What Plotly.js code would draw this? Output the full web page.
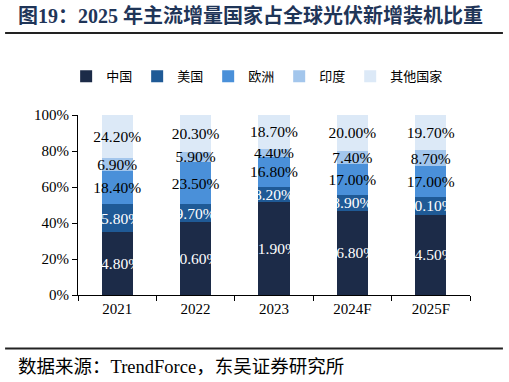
<!DOCTYPE html>
<html><head><meta charset="utf-8">
<script src="https://cdn.plot.ly/plotly-3.0.1.min.js"></script>
<style>html,body{margin:0;padding:0;background:#fff}#chart{width:509px;height:382px}</style>
</head><body><div id="chart"></div>
<script>
const categories = ['2021', '2022', '2023', '2024F', '2025F'];
const seriesNames = ['中国', '美国', '欧洲', '印度', '其他国家'];
const china = [34.8, 40.6, 51.9, 46.8, 44.5];
const usa = [15.8, 9.7, 8.2, 8.9, 10.1];
const europe = [18.4, 23.5, 16.8, 17.0, 17.0];
const india = [6.9, 5.9, 4.4, 7.4, 8.7];
const others = [24.2, 20.3, 18.7, 20.0, 19.7];
const yTicks = [0, 20, 40, 60, 80, 100];

const seriesValues = [china, usa, europe, india, others];
const colors = ['#1c2b48', '#1f5a96', '#4a90d9', '#a3c6ec', '#dce9f7'];
const textColors = ['#ffffff', '#ffffff', '#000000', '#000000', '#000000'];
const serif = 'Liberation Serif, Noto Sans CJK SC, serif';

const traces = seriesNames.map((name, i) => ({
  type: 'bar',
  name: name,
  x: categories,
  y: seriesValues[i],
  text: seriesValues[i].map(v => v.toFixed(2) + '%'),
  textposition: 'inside',
  insidetextanchor: 'middle',
  constraintext: 'none',
  textangle: 0,
  textfont: {family: serif, size: 15.5, color: textColors[i]},
  marker: {color: colors[i], line: {width: 0}},
  hoverinfo: 'skip'
}));

const layout = {
  width: 509, height: 382,
  margin: {l: 78, r: 39, t: 115, b: 87},
  paper_bgcolor: '#ffffff', plot_bgcolor: '#ffffff',
  barmode: 'stack',
  bargap: 0.6,
  showlegend: true,
  legend: {
    orientation: 'h', x: 0.457, xanchor: 'center', y: 1.215, yanchor: 'middle',
    font: {family: 'Noto Sans CJK SC, sans-serif', size: 13, color: '#000'},
    itemwidth: 30, traceorder: 'normal'
  },
  xaxis: {
    type: 'category',
    showline: true, linecolor: '#000', linewidth: 1,
    ticks: 'outside', tickson: 'boundaries', ticklen: 5, tickcolor: '#000',
    tickfont: {family: serif, size: 15, color: '#000'},
    showgrid: false, zeroline: false, fixedrange: true
  },
  yaxis: {
    range: [0, 100],
    tickvals: yTicks,
    ticktext: yTicks.map(v => v + '%'),
    showline: true, linecolor: '#000', linewidth: 1,
    ticks: 'outside', ticklen: 5, tickcolor: '#000',
    tickfont: {family: serif, size: 15, color: '#000'},
    showgrid: false, zeroline: false, fixedrange: true
  },
  shapes: [
    {type: 'line', xref: 'paper', yref: 'paper', x0: -0.186, x1: 1.084, y0: 1.455, y1: 1.455, line: {color: '#222', width: 2}},
    {type: 'line', xref: 'paper', yref: 'paper', x0: -0.186, x1: 1.084, y0: -0.297, y1: -0.297, line: {color: '#222', width: 2}}
  ],
  annotations: [
    {xref: 'paper', yref: 'paper', x: -0.157, y: 1.55, xanchor: 'left', yanchor: 'middle', showarrow: false,
     text: '<b>图19：2025 年主流增量国家占全球光伏新增装机比重</b>',
     font: {family: serif, size: 20, color: '#1f3558'}},
    {xref: 'paper', yref: 'paper', x: -0.157, y: -0.4, xanchor: 'left', yanchor: 'middle', showarrow: false,
     text: '数据来源：TrendForce，东吴证券研究所',
     font: {family: serif, size: 18.5, color: '#000'}}
  ]
};

Plotly.newPlot('chart', traces, layout, {displayModeBar: false, staticPlot: true});
</script></body></html>
